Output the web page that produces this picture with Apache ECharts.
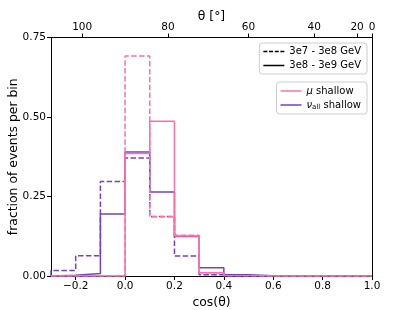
<!DOCTYPE html>
<html><head><meta charset="utf-8">
<script src="https://cdn.jsdelivr.net/npm/echarts@6/dist/echarts.min.js"></script>
<style>html,body{margin:0;padding:0;background:#fff}#c{width:413px;height:310px}</style>
</head><body><div id="c"></div>
<script>
const binEdges = [-0.3,-0.2,-0.1,0.0,0.1,0.2,0.3,0.4,0.5,0.6,0.7,0.8,0.9,1.0];
const muLow   = [0,0,0,0.692,0.186,0.128,0.010,0.001,0,0,0,0,0];
const muHigh  = [0,0,0,0.385,0.487,0.126,0.010,0.001,0,0,0,0,0];
const nuLow   = [0.017,0.064,0.297,0.371,0.187,0.063,0.004,0.001,0.001,0,0,0,0];
const nuHigh  = [0.002,0.008,0.195,0.390,0.264,0.124,0.026,0.004,0.001,0.001,0.001,0.001,0.001];
const xTicks = [-0.2,0.0,0.2,0.4,0.6,0.8,1.0];
const thetaTicks = [100,80,60,40,20,0];
const PINK = '#ff6fa6', PURPLE = '#7440c8';
const FONT = 'DejaVu Sans';

function stepData(vals){
  const d = [[binEdges[0],0]];
  vals.forEach((v,i)=>d.push([binEdges[i+1],v]));
  d.push([binEdges[binEdges.length-1],0]);
  return d;
}
const thetaPos = thetaTicks.map(t=>Math.cos(t*Math.PI/180));

function hist(name,vals,color,dashed){
  return {name:name,type:'line',step:'start',data:stepData(vals),symbol:'none',
    xAxisIndex:0,yAxisIndex:0,silent:true,animation:false,
    lineStyle:{color:color,width:1.5,type:dashed?[5.5,2.4]:'solid'}};
}
function dummy(name,color){
  return {name:name,type:'line',data:[],symbol:'none',animation:false,
    itemStyle:{color:color},lineStyle:{color:color,width:1.5}};
}
const SOLID_ICON = 'path://M0,0H21V1.5H0Z';
const DASH_ICON = 'path://M0,0H4V1.5H0Z M5.7,0H9.7V1.5H5.7Z M11.4,0H15.4V1.5H11.4Z M17,0H21V1.5H17Z';
const chart = echarts.init(document.getElementById('c'),null,{renderer:'canvas'});
const axisLine = {show:true,onZero:false,lineStyle:{color:'#000',width:1}};
chart.setOption({
  animation:false,
  textStyle:{fontFamily:FONT},
  grid:{left:51,right:41,top:37.5,bottom:34,containLabel:false,outerBoundsMode:'none'},
  xAxis:[
    {type:'value',min:-0.3,max:1.0,position:'bottom',
     name:'cos(θ)',nameLocation:'middle',nameGap:21,nameMoveOverlap:false,
     nameTextStyle:{fontFamily:FONT,fontSize:12.4,color:'#000'},
     axisLine:axisLine,splitLine:{show:false},
     axisTick:{show:true,length:4,customValues:xTicks,lineStyle:{color:'#000'}},
     axisLabel:{fontFamily:FONT,fontSize:10.5,color:'#000',margin:5,customValues:xTicks,
       formatter:v=>(v<0?'\u2212':'')+Math.abs(v).toFixed(1)}},
    {type:'value',min:-0.3,max:1.0,position:'top',
     name:'θ [°]',nameLocation:'middle',nameGap:15,nameMoveOverlap:false,
     nameTextStyle:{fontFamily:FONT,fontSize:12.4,color:'#000'},
     axisLine:axisLine,splitLine:{show:false},
     axisTick:{show:true,length:4,customValues:thetaPos,lineStyle:{color:'#000'}},
     axisLabel:{fontFamily:FONT,fontSize:10.5,color:'#000',margin:5,customValues:thetaPos,
       formatter:v=>{const i=thetaPos.findIndex(p=>Math.abs(p-v)<1e-6);return i>=0?String(thetaTicks[i]):'';}}}
  ],
  yAxis:[
    {type:'value',min:0,max:0.75,interval:0.25,position:'left',
     name:'fraction of events per bin',nameLocation:'middle',nameGap:31,nameMoveOverlap:false,
     nameTextStyle:{fontFamily:FONT,fontSize:12.4,color:'#000'},
     axisLine:axisLine,splitLine:{show:false},
     axisTick:{show:true,length:4,lineStyle:{color:'#000'}},
     axisLabel:{fontFamily:FONT,fontSize:10.5,color:'#000',margin:5,formatter:v=>v.toFixed(2)}},
    {type:'value',min:0,max:0.75,position:'right',
     axisLine:axisLine,splitLine:{show:false},axisTick:{show:false},axisLabel:{show:false}}
  ],
  legend:[
    {data:[{name:'3e7 - 3e8 GeV',icon:DASH_ICON},{name:'3e8 - 3e9 GeV',icon:SOLID_ICON}],
     orient:'vertical',right:46,top:43,
     itemWidth:21,itemHeight:1.5,itemGap:3,padding:[3,6,3,4],
     borderColor:'#ccc',borderWidth:1,borderRadius:3,backgroundColor:'#fff',selectedMode:false,
     textStyle:{fontFamily:FONT,fontSize:10,color:'#000',lineHeight:11}},
    {data:[{name:'mu',icon:SOLID_ICON},{name:'nu',icon:SOLID_ICON}],
     orient:'vertical',right:46,top:82,
     itemWidth:21,itemHeight:1.5,itemGap:2,padding:[3,6,3,4],
     borderColor:'#ccc',borderWidth:1,borderRadius:3,backgroundColor:'#fff',selectedMode:false,
     formatter:n=>n==='mu'?'{i|μ} shallow':'{i|ν}{s|all} shallow',
     textStyle:{fontFamily:FONT,fontSize:10,color:'#000',lineHeight:12,
       rich:{i:{fontFamily:FONT,fontSize:10,fontStyle:'italic',color:'#000'},
             s:{fontFamily:FONT,fontSize:7,color:'#000',verticalAlign:'bottom',padding:[4,0,0,0]}}}}
  ],
  series:[
    hist('nuLow',nuLow,PURPLE,true),
    hist('nuHigh',nuHigh,PURPLE,false),
    hist('muLow',muLow,PINK,true),
    hist('muHigh',muHigh,PINK,false),
    dummy('3e7 - 3e8 GeV','#000'),
    dummy('3e8 - 3e9 GeV','#000'),
    dummy('mu',PINK),
    dummy('nu',PURPLE)
  ]
});
</script></body></html>
